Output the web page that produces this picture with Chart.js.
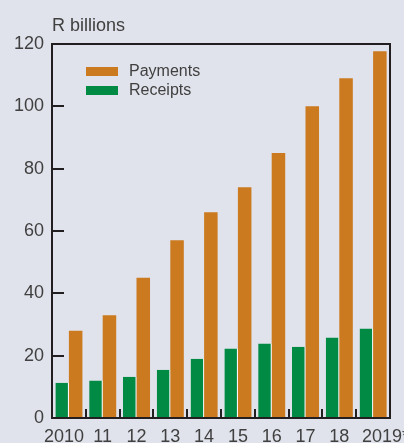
<!DOCTYPE html>
<html>
<head>
<meta charset="utf-8">
<script src="https://cdn.jsdelivr.net/npm/chart.js@4"></script>
<style>
  html, body { margin: 0; padding: 0; background: #e0e3eb; }
  #wrap { width: 404px; height: 443px; position: relative; }
</style>
</head>
<body>
<div id="wrap"><canvas id="c" width="404" height="443"></canvas></div>
<script>
const categories = ['2010', '11', '12', '13', '14', '15', '16', '17', '18', '2019*'];
const payments = [28, 33, 45, 57, 66, 74, 85, 100, 109, 117.7];
const receipts = [11.3, 12, 13.2, 15.5, 19, 22.3, 23.9, 22.9, 25.8, 28.7];
const yTicks = [0, 20, 40, 60, 80, 100, 120];
const unitLabel = 'R billions';

const ORANGE = '#cc7a20';
const GREEN = '#008a44';
const INK = '#231f20';
const TEXT = '#404040';
const FONT = "'Liberation Sans', Arial, sans-serif";

const framePlugin = {
  id: 'frame',
  afterDatasetsDraw(chart) {
    const { ctx, chartArea: a, scales } = chart;
    const x = scales.x, y = scales.y;
    ctx.save();
    ctx.strokeStyle = INK;
    ctx.lineWidth = 2;
    ctx.strokeRect(a.left, a.top, a.right - a.left, a.bottom - a.top);
    ctx.beginPath();
    yTicks.forEach(v => {
      const py = Math.round(y.getPixelForValue(v));
      ctx.moveTo(a.left, py);
      ctx.lineTo(a.left + 12, py);
    });
    for (let i = 1; i < categories.length; i++) {
      const px = Math.round((x.getPixelForValue(i - 1) + x.getPixelForValue(i)) / 2);
      ctx.moveTo(px, a.bottom);
      ctx.lineTo(px, a.bottom - 9);
    }
    ctx.stroke();
    ctx.fillStyle = TEXT;
    ctx.font = '18px ' + FONT;
    ctx.textAlign = 'left';
    ctx.textBaseline = 'alphabetic';
    ctx.fillText(unitLabel, a.left, 31);
    const items = [chart.data.datasets[1], chart.data.datasets[0]];
    ctx.font = '16px ' + FONT;
    ctx.textBaseline = 'middle';
    items.forEach((ds, i) => {
      const top = a.top + 23 + i * 19;
      ctx.fillStyle = ds.backgroundColor;
      ctx.fillRect(a.left + 34, top, 32, 9);
      ctx.fillStyle = TEXT;
      ctx.fillText(ds.label, a.left + 77, top + 5);
    });
    ctx.restore();
  }
};

new Chart(document.getElementById('c'), {
  type: 'bar',
  data: {
    labels: categories,
    datasets: [
      { label: 'Receipts', data: receipts, backgroundColor: GREEN,
        borderColor: '#ffffff', borderWidth: { left: 0, right: 1, top: 0, bottom: 0 }, borderSkipped: false },
      { label: 'Payments', data: payments, backgroundColor: ORANGE, borderWidth: 0 }
    ]
  },
  options: {
    responsive: false,
    animation: false,
    devicePixelRatio: 1,
    layout: { padding: { top: 44, right: 14, left: 0, bottom: 0 } },
    datasets: { bar: { categoryPercentage: 0.8, barPercentage: 1 } },
    plugins: { legend: { display: false }, tooltip: { enabled: false }, title: { display: false } },
    scales: {
      x: {
        grid: { display: false },
        border: { display: false },
        ticks: {
          autoSkip: false, maxRotation: 0, padding: 0, color: TEXT, font: { family: FONT, size: 18 },
          callback(v, i) {
            const t = categories[i];
            if (i === 0) return t + '  ';
            if (i === categories.length - 1) return '     ' + t;
            return t;
          }
        },
        afterFit(s) { s.height = 25; s.paddingLeft = 0; s.paddingRight = 0; }
      },
      y: {
        min: 0, max: 120,
        afterBuildTicks(s) { s.ticks = yTicks.map(v => ({ value: v })); },
        grid: { display: false, drawTicks: false },
        border: { display: false },
        ticks: { padding: 8, color: TEXT, font: { family: FONT, size: 18 } },
        afterFit(s) { s.width = 52; }
      }
    }
  },
  plugins: [framePlugin]
});
</script>
</body>
</html>
